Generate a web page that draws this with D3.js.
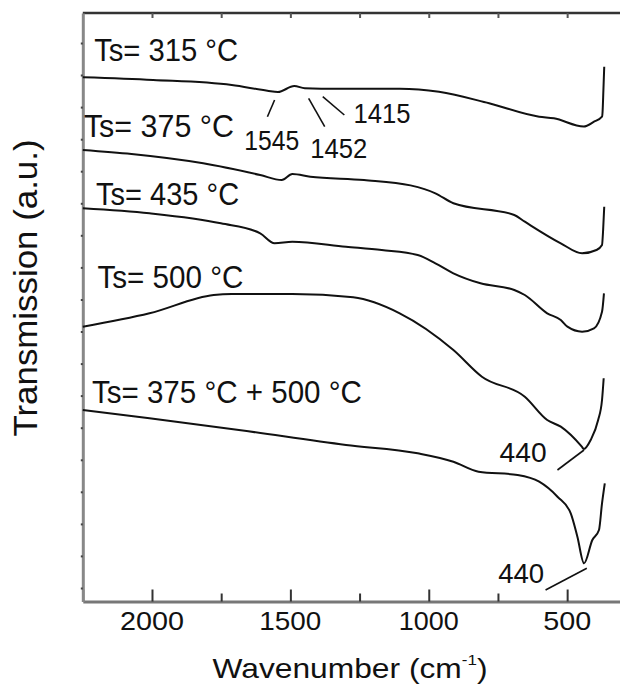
<!DOCTYPE html>
<html lang="en">
<head>
<meta charset="UTF-8" />
<title>FTIR spectra</title>
<script src="https://cdn.jsdelivr.net/npm/d3@7"></script>
<style>
  body { margin: 0; background: #fff; }
  svg { display: block; }
  text { font-family: Arial, "Liberation Sans", sans-serif; fill: #111; }
</style>
</head>
<body>
<svg width="620" height="686"></svg>
<script>
// spectra: [wavenumber cm-1, transmission a.u.]
const ts315 = [[2250,52.42],[1996,52.15],[1712,51.65],[1583,51.08],[1545,50.95],[1486,51.55],[1448,51.32],[1389,51.28],[1105,51.28],[963,50.98],[782,49.82],[601,48.48],[548,48.32],[440,47.5],[403,47.98],[374,48.48],[372,48.98],[369,51.15],[366,53.48]];
const ts375 = [[2250,45.15],[2074,44.75],[1815,43.82],[1609,42.65],[1531,42.15],[1493,42.75],[1428,42.48],[1234,42.15],[1066,41.61],[976,40.82],[911,39.82],[691,38.65],[653,37.98],[523,35.82],[446,34.82],[394,35.15],[374,35.65],[370,37.15],[366,39.48]];
const ts435 = [[2250,39.32],[2009,38.82],[1751,37.82],[1609,36.82],[1557,35.82],[1493,35.98],[1299,35.48],[1170,35.15],[1040,34.65],[976,33.82],[911,32.82],[813,31.82],[691,31.15],[653,30.65],[572,28.82],[523,28.15],[499,27.48],[446,26.98],[403,27.32],[374,28.98],[367,30.82]];
const ts500 = [[2250,27.48],[2009,28.82],[1777,30.65],[1712,30.75],[1493,30.75],[1273,30.42],[1105,28.82],[911,25.15],[808,22.48],[653,20.48],[572,18.15],[523,17.48],[447,15.48],[440,15.25],[415,16.15],[388,18.15],[374,20.15],[368,22.32]];
const ts375500 = [[2250,19.15],[2009,18.32],[1686,17.15],[1299,15.65],[1040,14.82],[911,13.98],[820,12.98],[679,12.65],[601,11.98],[535,10.48],[487,8.82],[463,6.48],[439,3.82],[409,6.15],[385,7.15],[374,9.82],[364,11.82]];

const seriesNames = ["Ts= 315 °C", "Ts= 375 °C", "Ts= 435 °C", "Ts= 500 °C", "Ts= 375 °C + 500 °C"];
const seriesData = [ts315, ts375, ts435, ts500, ts375500];

const majorTicks = [2000, 1500, 1000, 500];
const majorLabels = ["2000", "1500", "1000", "500"];
const minorTicks = [1750, 1250, 750];
const yTicks = [1.35,4.56,7.76,10.97,14.17,17.38,20.59,23.79,27.0,30.2,33.41,36.62,39.82,43.03,46.23,49.44,52.65,55.85];

// peak marks: label, label anchor [w,u], leader from [w,u] to [w,u]
const peakLabels = ["1545", "1452", "1415", "440", "440"];
const peakAnchors = [[1567,45.15],[1325,44.35],[1169,47.85],[659,13.95],[666,1.9]];
const peakLeaders = [
  [[1557,50.15],[1583,48.48]],
  [[1434,50.32],[1376,47.48]],
  [[1383,50.48],[1305,48.65]],
  [[535,13.15],[439,15.15]],
  [[578,1.15],[429,3.32]]
];
const seriesAnchors = [[2209,54.08],[2246,46.45],[2202,39.65],[2197,31.35],[2217,19.85]];

const svg = d3.select("svg");
const x = d3.scaleLinear().domain([2250, 300]).range([82.8, 622.5]);
const y = d3.scaleLinear().domain([0, 58.85]).range([601.5, 13]);

const line = d3.line()
  .x(d => x(d[0]))
  .y(d => y(d[1]))
  .curve(d3.curveMonotoneX);

// frame
svg.append("line")
  .attr("x1", x(2250)).attr("x2", 620)
  .attr("y1", y(58.85)).attr("y2", y(58.85))
  .attr("stroke", "#333").attr("stroke-width", 2.5);

const bottomAxis = svg.append("g").attr("transform", `translate(0,${y(0)})`);
bottomAxis.call(d3.axisBottom(x).tickValues([2250].concat(majorTicks)).tickSizeInner(-12).tickSizeOuter(0).tickFormat(""));
bottomAxis.append("g").call(d3.axisBottom(x).tickValues(minorTicks).tickSizeInner(-8).tickSizeOuter(0).tickFormat(""))
  .select(".domain").remove();
bottomAxis.selectAll(".domain").attr("stroke", "#777").attr("stroke-width", 3);
bottomAxis.selectAll(".tick line").attr("stroke", "#333").attr("stroke-width", 2);

const topAxis = svg.append("g").attr("transform", `translate(0,${y(58.85)})`);
topAxis.call(d3.axisTop(x).tickValues(majorTicks.concat(minorTicks)).tickSizeInner(-5).tickSizeOuter(0).tickFormat(""));
topAxis.select(".domain").remove();
topAxis.selectAll(".tick line").attr("stroke", "#555").attr("stroke-width", 2);

const leftAxis = svg.append("g").attr("transform", `translate(${x(2250)},0)`);
leftAxis.call(d3.axisLeft(y).tickValues(yTicks).tickSizeInner(2).tickSizeOuter(0).tickFormat(""));
leftAxis.select(".domain").attr("stroke", "#888").attr("stroke-width", 3);
leftAxis.selectAll(".tick line").attr("stroke", "#444").attr("stroke-width", 2);

// tick labels
svg.append("g").selectAll("text")
  .data(majorTicks)
  .join("text")
  .attr("x", d => x(d))
  .attr("y", 630)
  .attr("text-anchor", "middle")
  .attr("font-size", 25)
  .attr("textLength", (d, i) => [64, 62, 60, 48][i])
  .attr("lengthAdjust", "spacingAndGlyphs")
  .text((d, i) => majorLabels[i]);

// axis titles
const xt = svg.append("text")
  .attr("x", 350).attr("y", 678)
  .attr("text-anchor", "middle")
  .attr("font-size", 28)
  .attr("textLength", 275)
  .attr("lengthAdjust", "spacingAndGlyphs");
xt.append("tspan").text("Wavenumber (cm");
xt.append("tspan").attr("font-size", 15).attr("dy", -13).text("-1");
xt.append("tspan").attr("dy", 13).text(")");

svg.append("text")
  .attr("transform", "translate(37,288) rotate(-90)")
  .attr("text-anchor", "middle")
  .attr("font-size", 33)
  .attr("textLength", 297)
  .attr("lengthAdjust", "spacingAndGlyphs")
  .text("Transmission (a.u.)");

// spectra
svg.append("g").selectAll("path")
  .data(seriesData)
  .join("path")
  .attr("d", line)
  .attr("fill", "none")
  .attr("stroke", "#111")
  .attr("stroke-width", 2);

// series labels
svg.append("g").selectAll("text")
  .data(seriesNames)
  .join("text")
  .attr("x", (d, i) => x(seriesAnchors[i][0]))
  .attr("y", (d, i) => y(seriesAnchors[i][1]))
  .attr("font-size", 31)
  .attr("textLength", (d, i) => [144, 150, 143, 146, 270][i])
  .attr("lengthAdjust", "spacingAndGlyphs")
  .text(d => d);

// peak leaders and labels
svg.append("g").selectAll("line")
  .data(peakLeaders)
  .join("line")
  .attr("x1", d => x(d[0][0])).attr("y1", d => y(d[0][1]))
  .attr("x2", d => x(d[1][0])).attr("y2", d => y(d[1][1]))
  .attr("stroke", "#111").attr("stroke-width", 1.6);

svg.append("g").selectAll("text")
  .data(peakLabels)
  .join("text")
  .attr("x", (d, i) => x(peakAnchors[i][0]))
  .attr("y", (d, i) => y(peakAnchors[i][1]))
  .attr("text-anchor", "middle")
  .attr("font-size", 28)
  .attr("textLength", (d, i) => [55, 57, 57, 47, 46][i])
  .attr("lengthAdjust", "spacingAndGlyphs")
  .text(d => d);
</script>
</body>
</html>
